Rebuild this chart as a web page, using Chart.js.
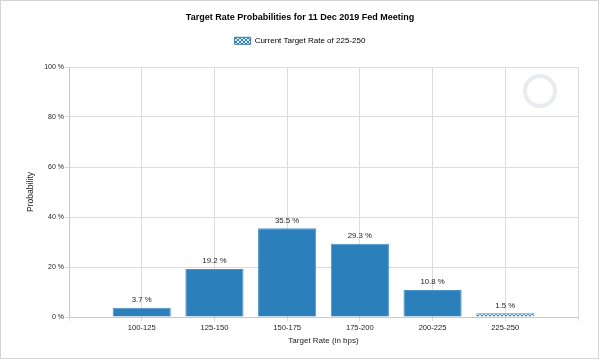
<!DOCTYPE html>
<html>
<head>
<meta charset="utf-8">
<script src="https://cdn.jsdelivr.net/npm/chart.js@4"></script>
<style>
  html, body { margin: 0; padding: 0; background: #fff; }
  #wrap { width: 600px; height: 360px; }
</style>
</head>
<body>
<div id="wrap"><canvas id="chartFed" width="600" height="360"></canvas></div>
<script>
// Categories (empty slots at both ends so labels sit on grid lines)
const rateBuckets = ['', '100-125', '125-150', '150-175', '175-200', '200-225', '225-250', ''];
const probabilities = [null, 3.7, 19.2, 35.5, 29.3, 10.8, 1.5, null];
const yTicks = [0, 20, 40, 60, 80, 100];
const currentBucket = '225-250';

const barBlue = '#2b7fba';
const fontFam = '"Liberation Sans", Arial, sans-serif';

// hatched fill for the current target rate
const makeHatch = () => {
  const c = document.createElement('canvas');
  c.width = 4; c.height = 4;
  const g = c.getContext('2d');
  g.fillStyle = barBlue;
  g.fillRect(0, 0, 4, 4);
  g.strokeStyle = 'rgba(255,255,255,0.9)';
  g.lineWidth = 1;
  g.beginPath();
  g.moveTo(0, 0); g.lineTo(4, 4);
  g.moveTo(4, 0); g.lineTo(0, 4);
  g.stroke();
  return g.createPattern(c, 'repeat');
};
const hatch = makeHatch();

const frame = {
  id: 'frame',
  beforeDraw(chart) {
    const { ctx } = chart;
    ctx.save();
    ctx.fillStyle = '#fff';
    ctx.fillRect(0, 0, chart.width, chart.height);
    ctx.strokeStyle = '#d4d4d4';
    ctx.lineWidth = 1;
    ctx.strokeRect(0.5, 0.5, chart.width - 2, chart.height - 2);
    // faint watermark ring
    const a = chart.chartArea;
    ctx.strokeStyle = 'rgba(205,212,220,0.45)';
    ctx.lineWidth = 4;
    ctx.beginPath();
    ctx.arc(a.right - 38, a.top + 24, 15, 0, Math.PI * 2);
    ctx.stroke();
    ctx.restore();
  }
};

const valueLabels = {
  id: 'valueLabels',
  afterDatasetsDraw(chart) {
    const { ctx } = chart;
    const meta = chart.getDatasetMeta(0);
    ctx.save();
    ctx.font = '7.8px ' + fontFam;
    ctx.fillStyle = '#222';
    ctx.textAlign = 'center';
    ctx.textBaseline = 'bottom';
    meta.data.forEach((bar, i) => {
      const v = probabilities[i];
      if (v == null) return;
      ctx.fillText(v.toFixed(1) + ' %', bar.x, bar.y - 4);
    });
    ctx.restore();
  }
};

new Chart(document.getElementById('chartFed'), {
  type: 'bar',
  data: {
    labels: rateBuckets,
    datasets: [{
      label: 'Current Target Rate of ' + currentBucket,
      data: probabilities,
      backgroundColor: rateBuckets.map(b => b === currentBucket ? hatch : barBlue),
      borderColor: '#4d93c8',
      borderWidth: 1,
      barPercentage: 0.8,
      categoryPercentage: 1
    }]
  },
  options: {
    responsive: false,
    animation: false,
    layout: { padding: 0 },
    plugins: {
      title: {
        display: true,
        text: 'Target Rate Probabilities for 11 Dec 2019 Fed Meeting',
        color: '#000',
        font: { family: fontFam, size: 9, weight: 'bold' },
        padding: { top: 12, bottom: 8 }
      },
      // empty spacer below the legend
      subtitle: {
        display: true,
        text: '',
        weight: 100,
        font: { size: 1 },
        padding: { top: 0, bottom: 11 }
      },
      legend: {
        position: 'top',
        labels: {
          color: '#222',
          font: { family: fontFam, size: 8 },
          boxWidth: 16,
          boxHeight: 7,
          padding: 6,
          generateLabels: chart => [{
            text: chart.data.datasets[0].label,
            fillStyle: hatch,
            strokeStyle: '#3a78a8',
            lineWidth: 1,
            datasetIndex: 0
          }]
        }
      },
      tooltip: { enabled: false }
    },
    scales: {
      x: {
        offset: false,
        grid: { color: '#dcdcdc', tickLength: 4, offset: false },
        border: { color: '#c8c8c8' },
        ticks: { color: '#222', font: { family: fontFam, size: 7.6 }, padding: 2, maxRotation: 0, autoSkip: false },
        title: {
          display: true,
          text: 'Target Rate (in bps)',
          color: '#222',
          font: { family: fontFam, size: 8 },
          padding: { top: 2, bottom: 14 }
        },
        afterFit: s => { s.height = 43; }
      },
      y: {
        min: yTicks[0],
        max: yTicks[yTicks.length - 1],
        afterBuildTicks: s => { s.ticks = yTicks.map(v => ({ value: v })); },
        grid: { color: '#dcdcdc', tickLength: 4 },
        border: { color: '#c8c8c8' },
        ticks: { color: '#222', font: { family: fontFam, size: 7 }, padding: 1, callback: v => v + ' %' },
        title: {
          display: true,
          text: 'Probability',
          color: '#222',
          font: { family: fontFam, size: 8.6 },
          padding: { top: 25, bottom: 0 }
        },
        afterFit: s => { s.width = 69; }
      },
      // blank right-hand margin so the title and legend centre on the full width
      yRight: {
        position: 'right',
        grid: { display: false },
        border: { display: false },
        ticks: { display: false },
        afterFit: s => { s.width = 22; }
      }
    }
  },
  plugins: [frame, valueLabels]
});
</script>
</body>
</html>
